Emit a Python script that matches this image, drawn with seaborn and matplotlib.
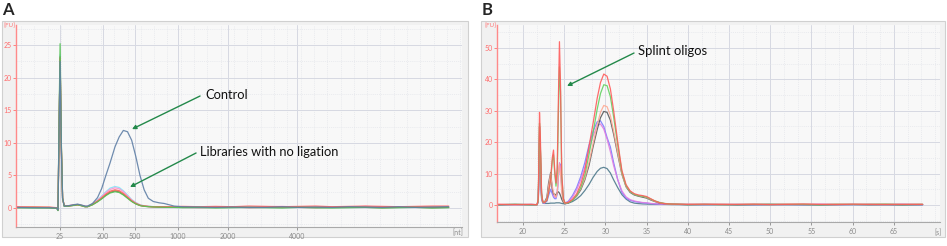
import matplotlib
matplotlib.use("Agg")
import matplotlib.pyplot as plt
import seaborn as sns
import pandas as pd
from matplotlib.patches import Rectangle
from matplotlib.ticker import MultipleLocator

# ---------------- Panel A data (migration time, s) ----------------
xa = [17, 19, 21, 21.9, 22.05, 22.2, 22.3, 22.45, 22.6, 22.8, 23.3, 23.9, 24.4, 24.9, 25.3,
      25.6, 26.2, 26.8, 27.3, 27.8, 28.3, 28.9, 29.4, 29.9, 30.4, 30.9, 31.4, 31.9, 32.4, 32.9,
      33.5, 34.2, 34.8, 35.4, 36.0,
      37, 39, 41, 43, 45, 47, 49, 51, 53, 55, 57, 59, 61, 63, 65, 67, 69]

a_control = [0.1, 0.05, 0.05, 0.0, -0.3, 14.0, 22.5, 9.0, 1.5, 0.3, 0.35, 0.5, 0.6, 0.45, 0.3,
             0.3, 0.7, 1.6, 3.0, 5.0, 6.9, 9.4, 10.9, 11.9, 11.7, 10.4, 7.9, 5.0, 2.8, 1.5,
             1.0, 0.8, 0.7, 0.5, 0.3,
             0.2, 0.15, 0.1, 0.15, 0.1, 0.1, 0.2, 0.1, 0.15, 0.1, 0.2, 0.15, 0.1, 0.2, 0.1, 0.15, 0.2]
a_cyan = [0.15, 0.1, 0.1, 0.0, -0.3, 15.0, 23.5, 9.0, 1.4, 0.3, 0.35, 0.45, 0.55, 0.4, 0.25,
          0.25, 0.65, 1.25, 1.85, 2.5, 3.05, 3.3, 3.15, 2.65, 2.0, 1.3, 0.85, 0.5, 0.35, 0.28,
          0.22, 0.18, 0.16, 0.15, 0.14,
          0.15, 0.2, 0.1, 0.15, 0.2, 0.1, 0.15, 0.1, 0.2, 0.15, 0.1, 0.15, 0.2, 0.1, 0.15, 0.1, 0.15]
a_pink = [0.1, 0.1, 0.05, 0.0, -0.3, 14.0, 23.0, 8.5, 1.3, 0.3, 0.35, 0.45, 0.55, 0.4, 0.25,
          0.25, 0.62, 1.18, 1.74, 2.36, 2.85, 3.1, 2.95, 2.5, 1.86, 1.24, 0.78, 0.47, 0.32, 0.26,
          0.2, 0.17, 0.15, 0.14, 0.13,
          0.2, 0.15, 0.2, 0.1, 0.15, 0.2, 0.25, 0.15, 0.1, 0.2, 0.15, 0.25, 0.15, 0.2, 0.1, 0.2, 0.15]
a_orange = [0.1, 0.15, 0.1, 0.0, -0.3, 13.5, 22.8, 9.0, 1.4, 0.3, 0.3, 0.4, 0.5, 0.35, 0.2,
            0.22, 0.54, 1.03, 1.51, 2.05, 2.48, 2.7, 2.57, 2.16, 1.62, 1.08, 0.68, 0.41, 0.28, 0.22,
            0.18, 0.15, 0.14, 0.13, 0.12,
            0.1, 0.15, 0.1, 0.2, 0.1, 0.15, 0.1, 0.2, 0.15, 0.1, 0.2, 0.1, 0.15, 0.1, 0.2, 0.15, 0.1]
a_brown = [0.05, 0.1, 0.05, -0.05, -0.35, 14.0, 23.2, 9.5, 1.5, 0.3, 0.3, 0.4, 0.5, 0.35, 0.2,
           0.21, 0.52, 0.99, 1.46, 1.98, 2.39, 2.6, 2.47, 2.08, 1.56, 1.04, 0.65, 0.39, 0.27, 0.22,
           0.18, 0.15, 0.14, 0.13, 0.12,
           0.1, 0.05, 0.1, 0.15, 0.05, 0.1, 0.15, 0.1, 0.05, 0.1, 0.15, 0.1, 0.05, 0.1, 0.1, 0.05, 0.1]
a_red = [0.2, 0.15, 0.15, 0.05, -0.2, 14.5, 23.0, 9.5, 1.6, 0.35, 0.35, 0.45, 0.5, 0.4, 0.25,
         0.22, 0.56, 1.06, 1.57, 2.13, 2.58, 2.8, 2.66, 2.24, 1.68, 1.12, 0.7, 0.42, 0.3, 0.24,
         0.2, 0.2, 0.2, 0.2, 0.2,
         0.25, 0.2, 0.25, 0.2, 0.3, 0.25, 0.2, 0.25, 0.3, 0.2, 0.25, 0.3, 0.25, 0.2, 0.25, 0.3, 0.3]
a_green = [0.05, 0.0, 0.0, -0.05, -0.4, 16.0, 25.2, 10.0, 1.5, 0.25, 0.3, 0.4, 0.5, 0.35, 0.2,
           0.2, 0.5, 0.95, 1.4, 1.9, 2.3, 2.5, 2.38, 2.0, 1.5, 1.0, 0.63, 0.38, 0.26, 0.21,
           0.17, 0.14, 0.12, 0.1, 0.1,
           0.05, 0.1, 0.0, 0.05, 0.1, 0.05, 0.0, 0.1, 0.05, 0.0, 0.05, 0.1, 0.0, 0.05, 0.1, 0.0, 0.05]

a_tick_pos = [22.29, 27.46, 31.30, 36.47, 42.48, 50.78]
a_tick_labels = ["25", "200", "500", "1000", "2000", "4000"]
a_yticks = [0, 5, 10, 15, 20, 25]

# ---------------- Panel B data (migration time, s) ----------------
xb = [17, 19, 21, 21.7, 21.85, 22.0, 22.1, 22.25, 22.4, 22.6, 22.9, 23.1, 23.35, 23.55, 23.7,
      23.85, 24.0, 24.15, 24.3, 24.42, 24.55, 24.7, 24.9, 25.1,
      25.5, 26.0, 26.5, 27.0, 27.5, 28.0, 28.5, 29.0, 29.4, 29.8, 30.2, 30.6, 31.0, 31.5, 32.0,
      32.5, 33.0, 33.5, 34.0, 34.5, 35.0, 35.5, 36.0, 36.6, 37.2, 38,
      40, 42, 44, 46, 48, 50, 52, 54, 56, 58, 60, 62, 64, 66, 68.5]

b_red = [0.2, 0.15, 0.2, 0.1, 2, 29.5, 22, 4, 1.0, 0.8, 1.5, 4, 8, 15, 17.5, 11, 7, 12, 35, 52, 38, 10, 2, 0.6,
         0.8, 1.8, 3.5, 6.5, 11, 18.5, 26, 34, 39, 41.7, 41, 37, 30, 20, 11, 6.5, 4.5, 3.6, 3.2, 3.0,
         2.7, 2.0, 1.3, 0.7, 0.45, 0.3,
         0.2, 0.25, 0.15, 0.2, 0.25, 0.15, 0.2, 0.3, 0.2, 0.15, 0.25, 0.2, 0.15, 0.2, 0.2]
b_green = [0.1, 0.2, 0.1, 0.1, 1.5, 26, 19, 3.5, 1.0, 0.8, 1.5, 4, 8, 14, 16, 10, 6, 10, 30, 44, 36, 9, 2, 0.6,
           0.7, 1.5, 3.0, 5.5, 9.5, 16, 23, 30.5, 35.5, 38.3, 38, 34.5, 28, 19, 10.5, 6.2, 4.3, 3.4, 3.0,
           2.8, 2.5, 1.9, 1.3, 0.8, 0.5, 0.3,
           0.15, 0.2, 0.1, 0.15, 0.2, 0.25, 0.15, 0.2, 0.1, 0.2, 0.15, 0.2, 0.25, 0.15, 0.2]
b_salmon = [0.2, 0.1, 0.2, 0.1, 1.5, 25, 18, 3, 1, 0.8, 2, 6, 10, 6, 4, 3, 2.5, 4, 10, 13, 10, 4, 1.2, 0.5,
            0.8, 1.6, 3.0, 5.2, 8.5, 13.5, 19.5, 25.5, 29.5, 31.7, 31.3, 28.5, 23.5, 16.5, 10, 6, 4.3,
            3.4, 3.0, 2.8, 2.4, 1.8, 1.2, 0.7, 0.45, 0.3,
            0.25, 0.2, 0.3, 0.2, 0.25, 0.2, 0.3, 0.25, 0.2, 0.3, 0.2, 0.25, 0.3, 0.2, 0.25]
b_gray = [0.1, 0.2, 0.1, 0.1, 1.5, 25, 18, 3, 1, 0.8, 2.5, 7, 10.3, 5, 3.5, 3.5, 3, 4, 4.2, 3.8, 3, 1.8, 0.8, 0.4,
          0.7, 1.5, 2.8, 4.8, 8, 12.5, 18.5, 24, 27.8, 29.8, 29.5, 27, 22.5, 16, 9.8, 5.8, 4.0, 3.2,
          2.8, 2.5, 2.2, 1.6, 1.1, 0.6, 0.4, 0.3,
          0.1, 0.15, 0.2, 0.1, 0.15, 0.1, 0.2, 0.15, 0.1, 0.15, 0.2, 0.1, 0.15, 0.1, 0.15]
b_blue = [0.1, 0.1, 0.2, 0.1, 1.2, 20, 14, 2.5, 0.8, 0.6, 1.2, 3, 5, 3.5, 2.5, 2, 2, 3.5, 9, 12.5, 13, 6, 1.5, 0.6,
          1.2, 3, 5.5, 9, 13.5, 19, 23.5, 26.5, 26.8, 25, 21.5, 18.5, 13.5, 8, 4.0, 2.2, 1.5, 1.1,
          0.9, 0.7, 0.6, 0.45, 0.35, 0.3, 0.25, 0.2,
          0.2, 0.1, 0.15, 0.2, 0.1, 0.2, 0.15, 0.1, 0.2, 0.15, 0.1, 0.2, 0.15, 0.2, 0.1]
b_magenta = [0.2, 0.1, 0.15, 0.1, 1.0, 17, 12, 2.2, 0.8, 0.6, 2, 6, 9.5, 5, 3, 2.5, 2.5, 4, 10, 13.5, 12, 5, 1.3, 0.6,
             1.0, 2.5, 4.8, 8, 12, 17.5, 22, 25.2, 25.8, 24.2, 21, 17, 12.5, 8, 4.5, 2.6, 1.7, 1.3,
             1.0, 0.8, 0.7, 0.5, 0.4, 0.3, 0.25, 0.2,
             0.2, 0.25, 0.2, 0.15, 0.25, 0.2, 0.15, 0.2, 0.25, 0.2, 0.15, 0.2, 0.2, 0.25, 0.2]
b_teal = [0.1, 0.15, 0.1, 0.1, 1.0, 17, 11, 2, 0.6, 0.5, 0.5, 0.5, 0.6, 0.6, 0.6, 0.6, 0.7, 0.7, 0.7, 0.7, 0.6, 0.5, 0.4, 0.4,
          0.6, 1.1, 1.9, 3.0, 4.6, 6.5, 8.8, 10.7, 11.7, 12.0, 11.6, 10.2, 8.0, 5.5, 3.3, 1.9, 1.0,
          0.6, 0.45, 0.35, 0.3, 0.25, 0.2, 0.2, 0.2, 0.15,
          0.1, 0.15, 0.1, 0.05, 0.1, 0.15, 0.1, 0.1, 0.05, 0.1, 0.15, 0.1, 0.1, 0.05, 0.1]

b_xticks = [20, 25, 30, 35, 40, 45, 50, 55, 60, 65]
b_yticks = [0, 10, 20, 30, 40, 50]

# ---------------- styling ----------------
sns.set_style("white")
plt.rcParams["font.family"] = ["Lato", "DejaVu Sans"]

W, H = 947, 246
fig = plt.figure(figsize=(W / 100, H / 100), dpi=100)
fig.patch.set_facecolor("white")


def fx(px):
    return px / W


def fy(py):
    return 1 - py / H


for (x0, x1) in [(2, 468), (481, 945)]:
    fig.add_artist(Rectangle((fx(x0), fy(237)), fx(x1 - x0), (237 - 21) / H,
                             transform=fig.transFigure, facecolor="#f1f1f1",
                             edgecolor="#d0d0d0", lw=0.8, zorder=0))

axA = fig.add_axes([fx(16), fy(227), fx(446), 202 / H])
axB = fig.add_axes([fx(497), fy(222), fx(443), 197 / H])


def long_df(x, series):
    frames = []
    for name, vals in series:
        frames.append(pd.DataFrame({"x": x, "y": vals, "s": name}))
    return pd.concat(frames, ignore_index=True)


dfA = long_df(xa, [("cyan", a_cyan), ("pink", a_pink), ("orange", a_orange),
                   ("brown", a_brown), ("red", a_red), ("green", a_green),
                   ("control", a_control)])
palA = {"cyan": "#86e3f7", "pink": "#ff92cf", "orange": "#e6b865", "brown": "#9c6b4c",
        "red": "#ff6464", "green": "#55c455", "control": "#5f7fa6"}
dfB = long_df(xb, [("teal", b_teal), ("blue", b_blue), ("magenta", b_magenta),
                   ("gray", b_gray), ("salmon", b_salmon), ("green", b_green),
                   ("red", b_red)])
palB = {"teal": "#4f7a8c", "blue": "#7c7cff", "magenta": "#e07de0", "gray": "#5a5a5a",
        "salmon": "#ffab94", "green": "#62d262", "red": "#ff5c5c"}

sns.lineplot(data=dfA, x="x", y="y", hue="s", palette=palA, estimator=None, sort=False,
             lw=0.9, alpha=0.9, legend=False, ax=axA)
sns.lineplot(data=dfB, x="x", y="y", hue="s", palette=palB, estimator=None, sort=False,
             lw=0.9, alpha=0.9, legend=False, ax=axB)


def style(ax, xlim, ylim, yticks, xticks, xlabels, minor_y, minor_x):
    ax.set_facecolor("#f8f8f8")
    ax.set_xlim(*xlim)
    ax.set_ylim(*ylim)
    ax.set_yticks(yticks)
    ax.set_xticks(xticks)
    ax.set_xticklabels(xlabels)
    ax.yaxis.set_minor_locator(MultipleLocator(minor_y))
    ax.xaxis.set_minor_locator(MultipleLocator(minor_x))
    ax.grid(which="major", color="#d6d9e2", lw=0.7)
    ax.grid(which="minor", color="#e4e6eb", lw=0.5, ls=(0, (1.5, 1.5)))
    ax.set_axisbelow(True)
    for s in ["top", "right"]:
        ax.spines[s].set_visible(False)
    ax.spines["left"].set_color("#ff8a8a")
    ax.spines["left"].set_linewidth(1.0)
    ax.spines["bottom"].set_color("#a9a9a9")
    ax.spines["bottom"].set_linewidth(0.8)
    ax.tick_params(axis="y", which="major", colors="#ff6e6e", labelsize=5, length=2,
                   width=0.6, pad=1, left=True)
    ax.tick_params(axis="x", which="major", colors="#8a8a8a", labelsize=5, length=2,
                   width=0.6, pad=2, bottom=True)
    ax.tick_params(which="minor", length=0)
    ax.set_xlabel("")
    ax.set_ylabel("")


style(axA, (17, 70.6), (-2.91, 28.07), a_yticks, a_tick_pos, a_tick_labels, 2.5, 1.6)
style(axB, (16.84, 70.61), (-5.41, 57.32), b_yticks, b_xticks, [str(t) for t in b_xticks],
      5, 5 / 3)

# axis unit labels
fig.text(fx(3), fy(26), "[FU]", color="#ff7a7a", fontsize=4.5, va="center", ha="left")
fig.text(fx(484), fy(26), "[FU]", color="#ff7a7a", fontsize=4.5, va="center", ha="left")
fig.text(fx(463), fy(233), "[nt]", color="#8a8a8a", fontsize=5, va="center", ha="right")
fig.text(fx(942), fy(233), "[s]", color="#8a8a8a", fontsize=5, va="center", ha="right")

# panel letters
fig.text(fx(2), fy(10), "A", fontsize=12, fontweight="bold", va="center", ha="left")
fig.text(fx(482), fy(10), "B", fontsize=12, fontweight="bold", va="center", ha="left")

arrow_kw = dict(arrowstyle="-|>", color="#23894a", lw=1.0, mutation_scale=6,
                shrinkA=0, shrinkB=0)

axA.annotate("", xy=(30.94, 12.1), xytext=(39.12, 17.18), arrowprops=arrow_kw)
axA.text(39.72, 17.3, "Control", fontsize=9.3, va="center", ha="left", color="#111111")
axA.annotate("", xy=(30.70, 3.22), xytext=(38.64, 8.44), arrowprops=arrow_kw)
axA.text(39.12, 8.59, "Libraries with no ligation", fontsize=9.3, va="center", ha="left",
         color="#111111")
axB.annotate("", xy=(25.34, 37.9), xytext=(33.47, 48.4), arrowprops=arrow_kw)
axB.text(33.96, 49.0, "Splint oligos", fontsize=9.4, va="center", ha="left", color="#111111")

fig.savefig("out.png", dpi=100, facecolor="white")
